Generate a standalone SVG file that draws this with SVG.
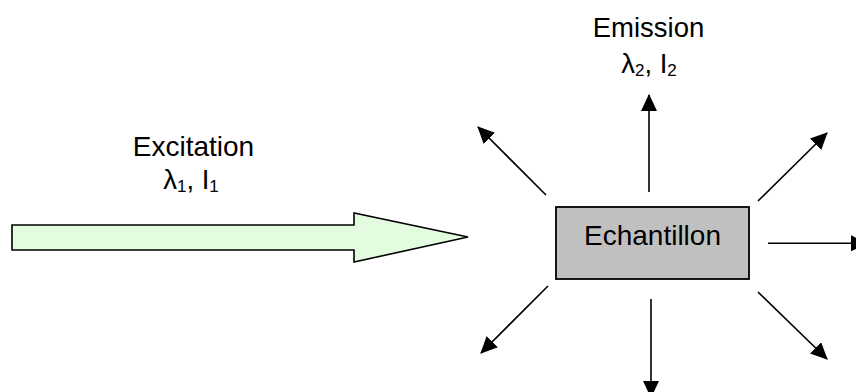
<svg xmlns="http://www.w3.org/2000/svg" width="856" height="392" viewBox="0 0 856 392">
<style>
.t{font-family:"Liberation Sans",Arial,sans-serif;font-size:27.5px;fill:#000;text-anchor:middle}
.s{font-size:17px}
.c{stroke:#000;stroke-width:1.6;fill:none;marker-end:url(#ah)}
</style>
<defs>
<marker id="ah" viewBox="0 0 17 16" refX="16" refY="8" markerWidth="17" markerHeight="16" markerUnits="userSpaceOnUse" orient="auto">
<path d="M0,0 L17,8 L0,16 Z" fill="#000"/>
</marker>
</defs>
<rect width="856" height="392" fill="#fff"/>
<g id="excitation">
<polygon points="12,225 354,225 354,213 468,237 354,262 354,250 12,250" fill="#E3FCE0" stroke="#000" stroke-width="1.6"/>
<text class="t" x="193.5" y="156" style="font-size:28px">Excitation</text>
<text class="t" x="191" y="189">λ<tspan class="s" dy="3">1</tspan><tspan dy="-3">, I</tspan><tspan class="s" dy="3">1</tspan></text>
</g>
<g id="emission">
<text class="t" x="648.5" y="37">Emission</text>
<text class="t" x="649" y="73">λ<tspan class="s" dy="3">2</tspan><tspan dy="-3">, I</tspan><tspan class="s" dy="3">2</tspan></text>
</g>
<g id="echantillon">
<rect x="556" y="207" width="193" height="72" fill="#C0C0C0" stroke="#000" stroke-width="1.8"/>
<text class="t" x="652.5" y="245" style="font-size:28px">Echantillon</text>
</g>
<g id="connectors">
<line class="c" x1="649" y1="192" x2="649" y2="95"/>
<line class="c" x1="651" y1="299" x2="651" y2="397"/>
<line class="c" x1="768" y1="243.3" x2="867" y2="243.3"/>
<line class="c" x1="546" y1="195" x2="478" y2="127"/>
<line class="c" x1="758" y1="201" x2="827" y2="133"/>
<line class="c" x1="548" y1="286" x2="481" y2="353"/>
<line class="c" x1="758" y1="292" x2="827" y2="359"/>
</g>
</svg>
